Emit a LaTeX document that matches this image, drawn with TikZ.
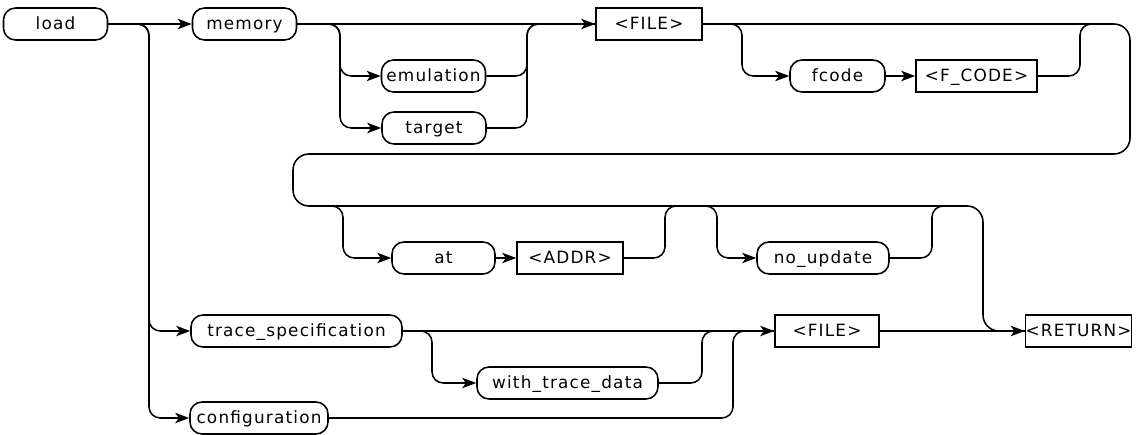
\documentclass[tikz,border=0pt]{standalone}
\usepackage{fontspec}
\setmainfont[LetterSpace=7]{DejaVu Sans}
\usetikzlibrary{arrows.meta}

\begin{document}
\begin{tikzpicture}[x=0.25mm, y=0.25mm, line width=1.1pt,
  every node/.style={inner sep=0pt, minimum height=8mm, text height=10.5pt, text depth=2pt,
    font=\fontsize{12}{14}\selectfont},
  kw/.style={draw, rounded corners=3mm},
  par/.style={draw},
  line/.style={rounded corners=2.8mm},
  arr/.style={line, -{Stealth[length=3.5mm,width=2.6mm,inset=0.9mm]}}]
\useasboundingbox (0,0) rectangle (1141,-435);
% keywords and parameters
\node[kw, minimum width=26mm] (load) at (55.5,-24) {load};
\node[kw, minimum width=26mm] (memory) at (244.5,-24) {memory};
\node[kw, minimum width=26mm] (emul) at (433.5,-76) {emulation};
\node[kw, minimum width=26mm] (target) at (434,-128) {target};
\node[par, minimum width=26.5mm] (file) at (649,-24) {<FILE>};
\node[kw, minimum width=23.75mm] (fcode) at (837.5,-76) {fcode};
\node[par, minimum width=30.25mm] (fcodearg) at (976.5,-76) {<F\_CODE>};
\node[kw, minimum width=25.75mm] (at) at (443.5,-258) {at};
\node[par, minimum width=26.5mm] (addr) at (570,-258) {<ADDR>};
\node[kw, minimum width=33mm] (noupd) at (823,-258) {no\_update};
\node[kw, minimum width=52.75mm] (trspec) at (296.5,-331) {trace\_specification};
\node[kw, minimum width=45.25mm] (wtd) at (567.5,-383) {with\_trace\_data};
\node[kw, minimum width=34.5mm] (conf) at (259,-418) {configuration};
\node[par, minimum width=26mm] (tfile) at (827,-331) {<FILE>};
\node[par, minimum width=26.25mm] (ret) at (1078.5,-331) {<RETURN>};
\coordinate (rowin) at (320,-206);
\coordinate (rowmid) at (690,-206);

% load memory ...
\draw[arr] (load) -- (memory);
\draw[arr] (load.east) -- (149,-24) |- (trspec.west);
\draw[arr] (load.east) -- (149,-24) |- (conf.west);
\draw[arr] (memory) -- (file);
\draw[arr] (memory.east) -- (340,-24) |- (emul.west);
\draw[arr] (memory.east) -- (340,-24) |- (target.west);
\draw[line] (emul.east) -| (527,-24) -- (file.west);
\draw[line] (target.east) -| (527,-24) -- (file.west);
\draw[arr] (file.east) -- (742,-24) |- (fcode.west);
\draw[arr] (fcode) -- (fcodearg);
\draw[line] (fcodearg.east) -| (1080,-24) -- (1110,-24);
% wrap round to the second row
\draw[line, rounded corners=4mm] (file.east) -- (1130,-24) -- (1130,-154)
  -- (293,-154) -- (293,-206) -- (983,-206) |- (ret.west);
\draw[arr] (rowin) -- (343,-206) |- (at.west);
\draw[arr] (at) -- (addr);
\draw[line] (addr.east) -| (665,-206) -- (rowmid);
\draw[arr] (rowmid) -- (717,-206) |- (noupd.west);
\draw[line] (noupd.east) -| (932,-206) -- (960,-206);
% trace_specification, configuration
\draw[arr] (trspec) -- (tfile);
\draw[arr] (trspec.east) -- (432,-331) |- (wtd.west);
\draw[line] (wtd.east) -| (702,-331) -- (tfile.west);
\draw[line] (conf.east) -| (733,-331) -- (tfile.west);
\draw[arr] (tfile) -- (ret);
\end{tikzpicture}
\end{document}
